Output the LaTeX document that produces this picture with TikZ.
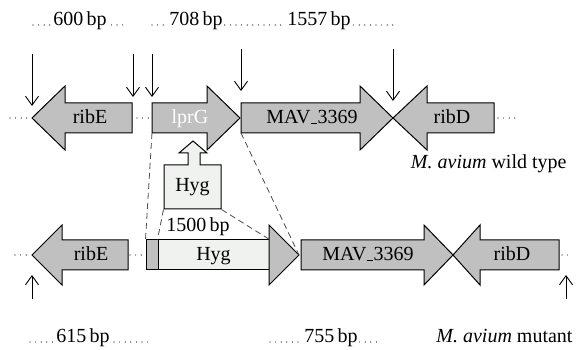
\documentclass[tikz,border=0pt]{standalone}
\usepackage{fontspec}
\setmainfont{Liberation Serif}
\usetikzlibrary{arrows.meta}
\definecolor{genegray}{RGB}{192,192,192}
\definecolor{hyglight}{RGB}{240,242,240}
\newcommand{\genebar}{\kern0.5pt\rule[-0.5pt]{6pt}{1.3pt}\kern0.5pt}

\begin{document}
\begin{tikzpicture}[x=1pt, y=-1pt, line width=1pt,
    genebox/.style={draw=black, fill=genegray, line join=miter},
    hygbox/.style={draw=black, fill=hyglight},
    txt/.style={font=\fontsize{20}{24}\selectfont, inner sep=0pt},
    bptxt/.style={txt, fill=white, inner xsep=1.5pt, anchor=base},
    dotrow/.style={line width=1.2pt, line cap=round, dash pattern=on 0pt off 5.6pt},
    sitearrow/.style={-{Straight Barb[length=9pt, width=13pt]}, line width=0.9pt},
    dashline/.style={draw=black!70, line width=0.8pt, dash pattern=on 6pt off 4pt}]

    \useasboundingbox (0,0) rectangle (582,350);

    % dots along the genome
    \foreach \a/\b/\y in {10/30/118, 137/150/118, 498/520/118, 15/31/255, 130/145/255, 562/571/255}
      \draw[dotrow] (\a,\y) -- (\b,\y);

    % gene arrows: tail, head base, tip, row, head half width
    \foreach \s/\b/\t/\y/\h in {132/65/32/118/32, 152/207/240/118/32, 241/360/393/118/32, 494/427/393/118/32,
                                128/62/32/255/30, 301/424/453/255/30, 559/480/453/255/30}
      \draw[genebox] (\s,\y-15) -- (\b,\y-15) -- (\b,\y-\h) -- (\t,\y) -- (\b,\y+\h) -- (\b,\y+15) -- (\s,\y+15) -- cycle;

    % corners used by the dashed lines
    \coordinate (lprg-sw) at (152,133);
    \coordinate (mav-sw) at (241,133);
    \coordinate (hygtip) at (299,255);

    % wild type labels
    \node[txt, anchor=base] (ribEwt) at (90,124) {ribE};
    \node[txt, anchor=base, text=white] (lprGwt) at (190,124) {lprG};
    \node[txt, anchor=base] (mavwt) at (312,124) {MAV\genebar3369};
    \node[txt, anchor=base] (ribDwt) at (452,124) {ribD};
    \node[txt, anchor=base east] (wildtype) at (567,169) {\textit{M. avium} wild type};

    % Hyg cassette going in
    \draw[hygbox] (164,209) -- (164,165) -- (188,165) -- (188,153) -- (179,153) -- (193,141)
      -- (207,153) -- (200,153) -- (200,165) -- (221,165) -- (221,209) -- cycle;
    \node[txt, minimum width=57pt, minimum height=44pt] (hygtop) at (192.5,187) {Hyg};

    % mutant
    \node[genebox, minimum width=12pt, minimum height=30pt, inner sep=0pt] (scar) at (152,255) {};
    \node[hygbox, txt, minimum width=111pt, minimum height=30pt] (hygmut) at (213.5,255) {};
    \draw[genebox] (269,225) -- (hygtip) -- (269,285) -- cycle;
    \node[txt, anchor=base] (hygmutlbl) at (213.5,261) {Hyg};
    \node[txt] (bp1500) at (198,227) {1500\,bp};
    \node[txt, anchor=base] (ribEmt) at (91,261) {ribE};
    \node[txt, anchor=base] (mavmt) at (368,261) {MAV\genebar3369};
    \node[txt, anchor=base] (ribDmt) at (512,261) {ribD};
    \node[txt, anchor=base east] (mutant) at (573,343) {\textit{M. avium} mutant};

    % dashed guides
    \draw[dashline] (lprg-sw) -- (scar.north west);
    \draw[dashline] (hygtop.south west) -- (hygmut.north west);
    \draw[dashline] (hygtop.south east) -- (hygmut.north east);
    \draw[dashline] (mav-sw) -- (hygtip);

    % sizes
    \draw[dotrow] (33,25) -- (128,25);
    \draw[dotrow] (152,25) -- (393,25);
    \draw[dotrow] (30,342) -- (153,342);
    \draw[dotrow] (270,342) -- (380,342);
    \node[bptxt] (bp600) at (80,26) {600\,bp};
    \node[bptxt] (bp708) at (196,26) {708\,bp};
    \node[bptxt] (bp1557) at (319,26) {1557\,bp};
    \node[bptxt] (bp615) at (83,343) {615\,bp};
    \node[bptxt] (bp755) at (331,343) {755\,bp};

    % primer sites
    \foreach \x/\a/\b in {32/54/106, 133/54/97, 152/54/97, 241/49/91, 393/49/101, 32/299/275, 566/299/275}
      \draw[sitearrow] (\x,\a) -- (\x,\b);
\end{tikzpicture}
\end{document}
